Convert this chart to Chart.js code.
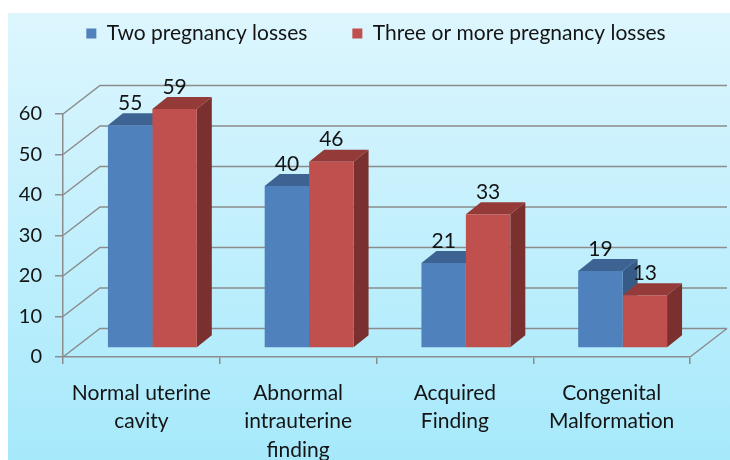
<!DOCTYPE html>
<html>
<head>
<meta charset="utf-8">
<script src="https://cdn.jsdelivr.net/npm/chart.js@4.4.1/dist/chart.umd.min.js"></script>
<style>
  html, body { margin: 0; padding: 0; background: #fff; }
  #chart { display: block; }
</style>
</head>
<body>
<canvas id="chart" width="730" height="460"></canvas>
<script>
const categories = [
  ['Normal uterine', 'cavity'],
  ['Abnormal', 'intrauterine', 'finding'],
  ['Acquired', 'Finding'],
  ['Congenital', 'Malformation'],
];
const twoLosses = [55, 40, 21, 19];
const threeOrMore = [59, 46, 33, 13];
const yTicks = [0, 10, 20, 30, 40, 50, 60];

const FONT = 'Lato, "Open Sans", sans-serif';
const TEXT = '#141414';
const LINE = '#8c8c8c';

// 3D look: back wall offset, bar offset into depth, bar depth
const wall = { dx: 37, dy: -28.5 };
const barShift = { dx: 11, dy: -9 };
const barDepth = { dx: 15, dy: -12 };

const shades = [
  { front: '#4f81bd', top: '#3d6392', side: '#375b87' },
  { front: '#c0504d', top: '#943b39', side: '#7a302e' },
];

function poly(ctx, pts, color) {
  ctx.beginPath();
  ctx.moveTo(pts[0][0], pts[0][1]);
  for (let i = 1; i < pts.length; i++) ctx.lineTo(pts[i][0], pts[i][1]);
  ctx.closePath();
  ctx.fillStyle = color;
  ctx.fill();
}

const background = {
  id: 'background',
  beforeDraw(chart) {
    const ctx = chart.ctx;
    const g = ctx.createLinearGradient(0, 13, 0, 460);
    g.addColorStop(0, '#ddf6fe');
    g.addColorStop(1, '#a6e9fb');
    ctx.save();
    ctx.fillStyle = g;
    ctx.fillRect(8, 13, 722, 447);
    ctx.restore();
  },
  afterLayout(chart) {
    // nudge the legend to where the original sits
    const lg = chart.legend;
    lg.left += 31; lg.right += 31;
    lg.top -= 60; lg.bottom -= 60;
  },
};

const box3d = {
  id: 'box3d',
  beforeDatasetsDraw(chart) {
    const ctx = chart.ctx;
    const y = chart.scales.y;
    const area = chart.chartArea;
    ctx.save();
    ctx.strokeStyle = LINE;
    ctx.lineWidth = 1.5;
    yTicks.forEach(v => {
      const py = y.getPixelForValue(v);
      ctx.beginPath();
      ctx.moveTo(area.left, py);
      ctx.lineTo(area.left + wall.dx, py + wall.dy);
      ctx.lineTo(area.right + wall.dx, py + wall.dy);
      ctx.stroke();
    });
    const py0 = y.getPixelForValue(0);
    ctx.beginPath();
    ctx.moveTo(area.right, py0);
    ctx.lineTo(area.right + wall.dx, py0 + wall.dy);
    ctx.stroke();
    ctx.restore();

    // bar tops and sides, then Chart.js draws the fronts on top
    ctx.save();
    ctx.translate(barShift.dx, barShift.dy);
    const metas = [chart.getDatasetMeta(0), chart.getDatasetMeta(1)];
    for (let i = 0; i < categories.length; i++) {
      metas.forEach((meta, d) => {
        const bar = meta.data[i];
        const half = bar.width / 2;
        const l = bar.x - half, r = bar.x + half;
        const t = bar.y, b = bar.base;
        poly(ctx, [[r, t], [r + barDepth.dx, t + barDepth.dy], [r + barDepth.dx, b + barDepth.dy], [r, b]], shades[d].side);
        poly(ctx, [[l, t], [r, t], [r + barDepth.dx, t + barDepth.dy], [l + barDepth.dx, t + barDepth.dy]], shades[d].top);
      });
    }
  },
  afterDatasetsDraw(chart) {
    const ctx = chart.ctx;
    ctx.restore();
    ctx.save();
    ctx.font = '21px ' + FONT;
    ctx.fillStyle = TEXT;
    ctx.textAlign = 'center';
    ctx.textBaseline = 'middle';
    [0, 1].forEach(d => {
      const meta = chart.getDatasetMeta(d);
      const values = chart.data.datasets[d].data;
      meta.data.forEach((bar, i) => {
        ctx.fillText(String(values[i]), bar.x + barShift.dx, bar.y + barShift.dy - 22);
      });
    });
    ctx.restore();
  },
};

new Chart(document.getElementById('chart'), {
  type: 'bar',
  data: {
    labels: categories,
    datasets: [
      { label: 'Two pregnancy losses', data: twoLosses, backgroundColor: shades[0].front, borderWidth: 0 },
      { label: 'Three or more pregnancy losses', data: threeOrMore, backgroundColor: shades[1].front, borderWidth: 0 },
    ],
  },
  options: {
    responsive: false,
    animation: false,
    clip: false,
    categoryPercentage: 0.567,
    barPercentage: 1,
    layout: { padding: { left: 0, right: 40, top: 38, bottom: 0 } },
    plugins: {
      legend: {
        position: 'top',
        labels: {
          font: { family: FONT, size: 21 },
          color: TEXT,
          boxWidth: 10,
          boxHeight: 10,
          padding: 45,
        },
      },
      tooltip: { enabled: false },
    },
    scales: {
      x: {
        grid: { offset: true, drawOnChartArea: false, drawTicks: true, tickLength: 7, color: LINE, lineWidth: 1.5 },
        border: { color: LINE, width: 1.5 },
        ticks: { font: { family: FONT, size: 21, lineHeight: 1.35 }, color: TEXT, padding: 15, maxRotation: 0 },
        afterFit(scale) { scale.height = 103; },
      },
      y: {
        min: 0,
        max: 60,
        ticks: { stepSize: 10, font: { family: FONT, size: 20 }, color: TEXT, padding: 13 },
        grid: { drawOnChartArea: false, drawTicks: true, tickLength: 8, color: LINE, lineWidth: 1.5 },
        border: { color: LINE, width: 1.5 },
        afterFit(scale) { scale.width = 63; },
      },
    },
  },
  plugins: [background, box3d],
});
</script>
</body>
</html>
